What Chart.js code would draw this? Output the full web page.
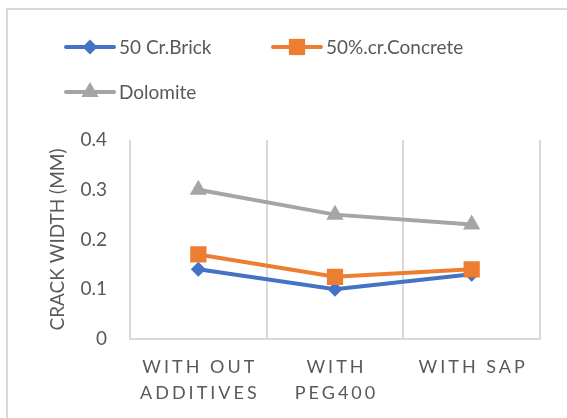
<!DOCTYPE html>
<html>
<head>
<meta charset="utf-8">
<script src="https://cdn.jsdelivr.net/npm/chart.js@4/dist/chart.umd.min.js"></script>
<style>
  html, body { margin: 0; padding: 0; background: #ffffff; }
  #wrap { width: 567px; height: 418px; position: relative; }
</style>
</head>
<body>
<div id="wrap"><canvas id="chart" width="567" height="418"></canvas></div>
<script>
// Crack width per additive treatment
const categories = [["WITH OUT", "ADDITIVES"], ["WITH", "PEG400"], "WITH SAP"];
const seriesNames = ["50 Cr.Brick", "50%.cr.Concrete", "Dolomite"];
const brick = [0.14, 0.10, 0.13];
const concrete = [0.17, 0.125, 0.14];
const dolomite = [0.30, 0.25, 0.23];
const yTicks = [0, 0.1, 0.2, 0.3, 0.4];
const yTitle = "CRACK WIDTH (MM)";

const COLORS = ["#4472C4", "#ED7D31", "#A5A5A5"];
const STYLES = ["rectRot", "rect", "triangle"];
const RADII = [7.5, 11.5, 10];
const TEXT = "#595959";
const FONT = "Lato, 'Open Sans', sans-serif";

function markerPath(ctx, style, r, x, y) {
  ctx.beginPath();
  if (style === "rectRot") {
    ctx.moveTo(x - r, y); ctx.lineTo(x, y - r); ctx.lineTo(x + r, y); ctx.lineTo(x, y + r);
  } else if (style === "rect") {
    const s = r * Math.SQRT1_2;
    ctx.rect(x - s, y - s, 2 * s, 2 * s);
  } else {
    const a = Math.PI / 2;
    for (let k = 0; k < 3; k++) {
      const ang = -a + k * 2 * Math.PI / 3;
      const px = x + Math.cos(ang) * r, py = y + Math.sin(ang) * r;
      k === 0 ? ctx.moveTo(px, py) : ctx.lineTo(px, py);
    }
  }
  ctx.closePath();
}

// Frame lines along the top and left edge, plus x-label letter spacing
const framePlugin = {
  id: "frame",
  beforeDraw(chart) {
    const ctx = chart.ctx;
    ctx.save();
    ctx.fillStyle = "#ffffff";
    ctx.fillRect(0, 0, chart.width, chart.height);
    ctx.fillStyle = "#d9d9d9";
    ctx.fillRect(6, 8, 2, chart.height - 8);
    ctx.fillRect(6, 8, chart.width - 6, 2);
    ctx.restore();
    const sx = chart.scales.x;
    if (sx && !sx._spaced) {
      const orig = sx.drawLabels;
      sx.drawLabels = function (area) {
        this.ctx.save();
        this.ctx.letterSpacing = "3px";
        this.ctx.translate(1.5, 0);
        orig.call(this, area);
        this.ctx.restore();
      };
      sx._spaced = true;
    }
  }
};

// Legend with line + marker swatches
const legendPlugin = {
  id: "lineLegend",
  afterDraw(chart) {
    const ctx = chart.ctx;
    const spots = [[65, 47], [272, 47], [65, 92]];
    ctx.save();
    chart.data.datasets.forEach((ds, i) => {
      const [lx, ly] = spots[i];
      ctx.strokeStyle = ds.borderColor;
      ctx.lineWidth = 4;
      ctx.lineCap = "round";
      ctx.beginPath();
      ctx.moveTo(lx + 1, ly); ctx.lineTo(lx + 49, ly);
      ctx.stroke();
      ctx.fillStyle = ds.borderColor;
      markerPath(ctx, ds.pointStyle, ds.pointRadius, lx + 25, ly);
      ctx.fill();
      ctx.fillStyle = TEXT;
      ctx.font = "19px " + FONT;
      ctx.textBaseline = "middle";
      ctx.textAlign = "left";
      ctx.fillText(ds.label, lx + 54, ly + 1);
    });
    ctx.restore();
  }
};

const seriesData = [brick, concrete, dolomite];
const datasets = seriesData.map((vals, i) => ({
  label: seriesNames[i],
  data: vals,
  borderColor: COLORS[i],
  backgroundColor: COLORS[i],
  borderWidth: 4,
  pointStyle: STYLES[i],
  pointRadius: RADII[i],
  pointHoverRadius: RADII[i],
  pointBorderWidth: 0,
  tension: 0,
  order: 3 - i
}));

new Chart(document.getElementById("chart"), {
  type: "line",
  data: { labels: categories, datasets },
  plugins: [framePlugin, legendPlugin],
  options: {
    responsive: false,
    animation: false,
    devicePixelRatio: 1,
    layout: { padding: { left: 40, top: 140, right: 27, bottom: 0 } },
    plugins: { legend: { display: false }, tooltip: { enabled: false } },
    scales: {
      x: {
        offset: true,
        grid: { display: true, offset: true, color: "#d9d9d9", lineWidth: 2, drawTicks: false },
        border: { display: true, color: "#d9d9d9", width: 2 },
        ticks: {
          color: TEXT, padding: 15, maxRotation: 0, autoSkip: false,
          font: { family: FONT, size: 18, lineHeight: 1.45 }
        },
        afterFit(s) { s.height = 79; s.paddingLeft = 0; s.paddingRight = 0; }
      },
      y: {
        min: 0, max: 0.4,
        afterBuildTicks(s) { s.ticks = yTicks.map(v => ({ value: v })); },
        grid: { display: false, drawTicks: false },
        border: { display: false },
        ticks: {
          color: TEXT, padding: 23,
          font: { family: FONT, size: 19 },
          callback: v => String(v)
        },
        title: {
          display: true, text: yTitle, color: TEXT,
          font: { family: FONT, size: 19 },
          padding: { top: 6, bottom: 0 }
        },
        afterFit(s) { s.width = 90; s.paddingTop = 0; s.paddingBottom = 0; }
      }
    }
  }
});
</script>
</body>
</html>
